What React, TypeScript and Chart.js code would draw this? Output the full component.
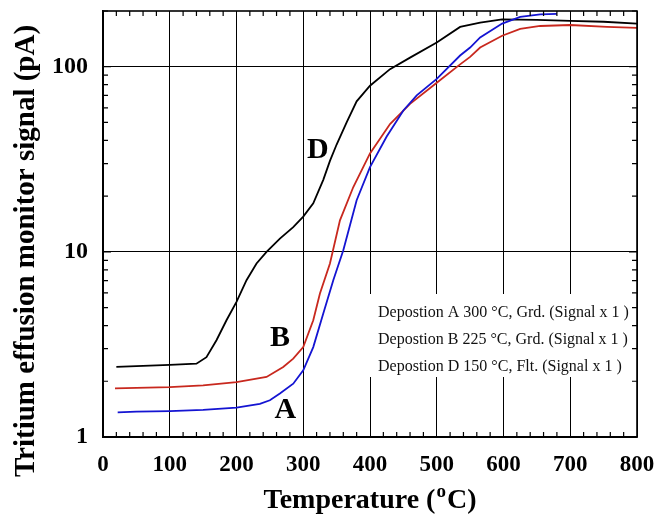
import React, { useEffect, useRef } from "react";
import { Chart, registerables } from "chart.js";

Chart.register(...registerables);

// Series A (blue)
const tempA = [22, 50, 100, 150, 200, 235, 250, 265, 285, 300, 315, 330, 345, 360, 380, 400, 425, 450, 470, 500, 535, 550, 565, 598, 625, 655, 680];
const signalA = [1.36, 1.37, 1.38, 1.4, 1.44, 1.51, 1.58, 1.72, 1.94, 2.29, 3.06, 4.64, 7.03, 10.2, 19, 28.7, 42, 58, 70, 86, 115, 127, 144, 171, 186, 192, 193];
// Series B (red)
const tempB = [18, 50, 100, 150, 200, 245, 270, 285, 300, 315, 325, 340, 355, 375, 400, 430, 460, 500, 535, 550, 565, 598, 625, 655, 700, 755, 800];
const signalB = [1.83, 1.84, 1.86, 1.9, 1.98, 2.11, 2.39, 2.65, 3.06, 4.27, 5.96, 8.65, 14.8, 22.4, 34, 49, 63, 82, 103, 113, 127, 147, 160, 166, 168, 164, 162];
// Series D (black)
const tempD = [20, 60, 100, 140, 155, 170, 185, 200, 215, 230, 245, 265, 285, 300, 315, 330, 340, 350, 365, 380, 400, 430, 460, 500, 535, 565, 598, 650, 700, 750, 800];
const signalD = [2.39, 2.42, 2.45, 2.49, 2.7, 3.33, 4.27, 5.37, 7.03, 8.65, 10, 11.8, 13.6, 15.5, 18.3, 24.5, 31, 38, 50, 65, 79, 97, 112, 135, 164, 173, 180, 179, 177, 175, 171];

const xTicks = [0, 100, 200, 300, 400, 500, 600, 700, 800];
const yTicks = [1, 10, 100];
const yMinorTicks = [2, 3, 4, 5, 6, 7, 8, 9, 20, 30, 40, 50, 60, 70, 80, 90, 200];

const legendLines = [
  "Depostion A 300 \u00B0C, Grd. (Signal x 1 )",
  "Depostion B 225 \u00B0C, Grd. (Signal x 1 )",
  "Depostion D 150 \u00B0C, Flt. (Signal x 1 )",
];

const curveLabels = ["A", "B", "D"];
const curveLabelT = [273, 265, 322];
const curveLabelV = [1.39, 3.42, 35.5];

const colorA = "#1414d2";
const colorB = "#c8281e";
const colorD = "#000000";

const SERIF = "'Liberation Serif', 'Times New Roman', serif";

const toPts = (t: number[], v: number[]) => t.map((x, i) => ({ x, y: v[i] }));

const zeroPad = (s: any) => {
  s.paddingTop = 0;
  s.paddingBottom = 0;
  s.paddingLeft = 0;
  s.paddingRight = 0;
};

export default function App() {
  const ref = useRef<HTMLCanvasElement | null>(null);

  useEffect(() => {
    if (!ref.current) return;

    const overlay = {
      id: "overlay",
      beforeDatasetsDraw(chart: any) {
        const { ctx, chartArea } = chart;
        ctx.save();
        ctx.fillStyle = "#ffffff";
        ctx.fillRect(365, 294, chartArea.right - 2 - 365, 83);
        ctx.restore();
      },
      afterDraw(chart: any) {
        const { ctx, chartArea } = chart;
        const xs = chart.scales.x;
        const ys = chart.scales.y;
        const { left, right, top, bottom } = chartArea;
        ctx.save();
        // frame
        ctx.strokeStyle = "#000";
        ctx.lineWidth = 1.6;
        ctx.strokeRect(left, top, right - left, bottom - top);
        // x minor ticks
        ctx.lineWidth = 1.2;
        ctx.beginPath();
        for (let t = 0; t <= 800; t += 20) {
          if (t % 100 === 0) continue;
          const px = xs.getPixelForValue(t);
          ctx.moveTo(px, bottom);
          ctx.lineTo(px, bottom - 5);
          ctx.moveTo(px, top);
          ctx.lineTo(px, top + 5);
        }
        // y minor ticks
        for (const v of yMinorTicks) {
          const py = ys.getPixelForValue(v);
          if (py < top - 0.5) continue;
          ctx.moveTo(left, py);
          ctx.lineTo(left + 5, py);
          ctx.moveTo(right, py);
          ctx.lineTo(right - 5, py);
        }
        for (const v of yTicks) {
          const py = ys.getPixelForValue(v);
          ctx.moveTo(left, py);
          ctx.lineTo(left + 8, py);
          ctx.moveTo(right, py);
          ctx.lineTo(right - 8, py);
        }
        ctx.stroke();

        // legend text
        ctx.fillStyle = "#111";
        ctx.font = `16px ${SERIF}`;
        ctx.textAlign = "left";
        ctx.textBaseline = "middle";
        legendLines.forEach((s, i) => {
          ctx.fillText(s, 378, 313 + i * 27);
        });

        // curve labels
        ctx.fillStyle = "#000";
        ctx.font = `bold 30px ${SERIF}`;
        ctx.textAlign = "center";
        ctx.textBaseline = "middle";
        curveLabels.forEach((s, i) => {
          ctx.fillText(s, xs.getPixelForValue(curveLabelT[i]), ys.getPixelForValue(curveLabelV[i]));
        });

        // y title
        ctx.save();
        ctx.translate(27, 251);
        ctx.rotate(-Math.PI / 2);
        ctx.font = `bold 29px ${SERIF}`;
        ctx.textAlign = "center";
        ctx.textBaseline = "middle";
        ctx.fillText("Tritium effusion monitor signal (pA)", 0, 0);
        ctx.restore();

        // x title with superscript
        const base = `bold 28px ${SERIF}`;
        const sup = `bold 19px ${SERIF}`;
        const p1 = "Temperature (";
        const p2 = "o";
        const p3 = "C)";
        ctx.font = base;
        const w1 = ctx.measureText(p1).width;
        const w3 = ctx.measureText(p3).width;
        ctx.font = sup;
        const w2 = ctx.measureText(p2).width;
        const total = w1 + w2 + w3 + 2;
        let x0 = (left + right) / 2 - total / 2;
        const baseY = 508;
        ctx.textAlign = "left";
        ctx.textBaseline = "alphabetic";
        ctx.font = base;
        ctx.fillText(p1, x0, baseY);
        x0 += w1 + 1;
        ctx.font = sup;
        ctx.fillText(p2, x0, baseY - 11);
        x0 += w2 + 1;
        ctx.font = base;
        ctx.fillText(p3, x0, baseY);
        ctx.restore();
      },
    };

    const chart = new Chart(ref.current, {
      type: "line",
      data: {
        datasets: [
          { label: "A", data: toPts(tempA, signalA), borderColor: colorA, borderWidth: 1.8, pointRadius: 0, fill: false },
          { label: "B", data: toPts(tempB, signalB), borderColor: colorB, borderWidth: 1.8, pointRadius: 0, fill: false },
          { label: "D", data: toPts(tempD, signalD), borderColor: colorD, borderWidth: 1.8, pointRadius: 0, fill: false },
        ],
      },
      options: {
        animation: false,
        responsive: false,
        maintainAspectRatio: false,
        layout: { padding: { left: 0, top: 11, right: 18, bottom: 0 } },
        plugins: { legend: { display: false }, tooltip: { enabled: false } },
        scales: {
          x: {
            type: "linear",
            min: 0,
            max: 800,
            afterBuildTicks: (s: any) => {
              s.ticks = xTicks.map((v) => ({ value: v }));
            },
            afterFit: (s: any) => {
              s.height = 78;
              zeroPad(s);
            },
            ticks: {
              color: "#000",
              font: { family: SERIF, size: 23, weight: "bold" },
              padding: 14,
              maxRotation: 0,
              callback: (v: any) => String(v),
            },
            grid: { color: "#000", lineWidth: 1, drawTicks: false },
            border: { display: true, color: "#000", width: 1.6 },
          },
          y: {
            type: "logarithmic",
            min: 1,
            max: 200,
            afterBuildTicks: (s: any) => {
              s.ticks = yTicks.map((v) => ({ value: v }));
            },
            afterFit: (s: any) => {
              s.width = 103;
              zeroPad(s);
            },
            ticks: {
              color: "#000",
              font: { family: SERIF, size: 24, weight: "bold" },
              padding: 15,
              callback: (v: any) => String(v),
            },
            grid: { color: "#000", lineWidth: 1, drawTicks: false },
            border: { display: true, color: "#000", width: 1.6 },
          },
        },
      },
      plugins: [overlay],
    } as any);

    return () => chart.destroy();
  }, []);

  return (
    <div style={{ position: "absolute", left: 0, top: 0, width: 655, height: 515, background: "#fff" }}>
      <canvas ref={ref} width={655} height={515} />
    </div>
  );
}
